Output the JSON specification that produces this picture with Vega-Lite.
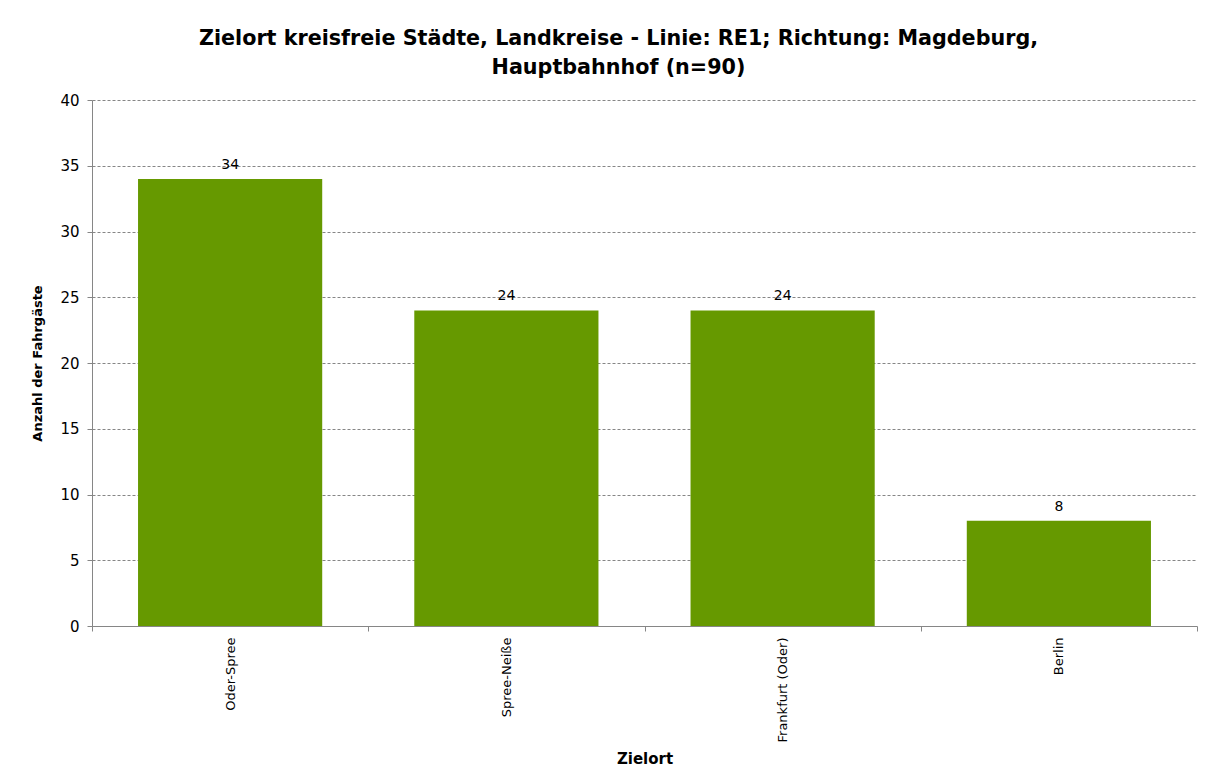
{
  "$schema": "https://vega.github.io/schema/vega-lite/v6.json",
  "width": 1105,
  "height": 526,
  "autosize": {"type": "none"},
  "padding": {"left": 92, "top": 100, "right": 11, "bottom": 156},
  "background": "white",
  "title": {
    "text": ["Zielort kreisfreie Städte, Landkreise - Linie: RE1; Richtung: Magdeburg,", "Hauptbahnhof (n=90)"],
    "font": "DejaVu Sans",
    "fontSize": 20.7,
    "fontWeight": "bold",
    "color": "#000000",
    "anchor": "middle",
    "dx": -26,
    "offset": 14,
    "lineHeight": 29
  },
  "data": {
    "values": [
      {"Zielort": "Oder-Spree", "Anzahl": 34},
      {"Zielort": "Spree-Neiße", "Anzahl": 24},
      {"Zielort": "Frankfurt (Oder)", "Anzahl": 24},
      {"Zielort": "Berlin", "Anzahl": 8}
    ]
  },
  "config": {
    "view": {"stroke": null},
    "font": "DejaVu Sans"
  },
  "encoding": {
    "x": {
      "field": "Zielort",
      "type": "nominal",
      "sort": null,
      "scale": {"paddingInner": 0, "paddingOuter": 0},
      "axis": {
        "title": "Zielort",
        "titleFont": "DejaVu Sans",
        "titleFontSize": 15,
        "titleFontWeight": "bold",
        "titleColor": "#000000",
        "titlePadding": 10,
        "labelAngle": -90,
        "labelFont": "DejaVu Sans",
        "labelFontSize": 13,
        "labelColor": "#000000",
        "labelPadding": 6,
        "tickBand": "extent",
        "tickSize": 5,
        "tickColor": "#868686",
        "domainColor": "#868686",
        "grid": false
      }
    },
    "y": {
      "field": "Anzahl",
      "type": "quantitative",
      "scale": {"domain": [0, 40], "nice": false},
      "axis": {
        "title": "Anzahl der Fahrgäste",
        "titleFont": "DejaVu Sans",
        "titleFontSize": 13,
        "titleFontWeight": "bold",
        "titleColor": "#000000",
        "titlePadding": 15,
        "values": [0, 5, 10, 15, 20, 25, 30, 35, 40],
        "labelFont": "DejaVu Sans",
        "labelFontSize": 15,
        "labelColor": "#000000",
        "labelPadding": 8,
        "tickSize": 5,
        "tickColor": "#868686",
        "domainColor": "#868686",
        "grid": true,
        "gridColor": "#868686",
        "gridDash": [3, 2],
        "gridWidth": 1
      }
    }
  },
  "layer": [
    {"mark": {"type": "bar", "color": "#669900", "width": {"band": 0.6667}}},
    {
      "mark": {"type": "text", "baseline": "bottom", "dy": -7, "fontSize": 14, "color": "#000000"},
      "encoding": {"text": {"field": "Anzahl", "type": "quantitative"}}
    }
  ]
}
